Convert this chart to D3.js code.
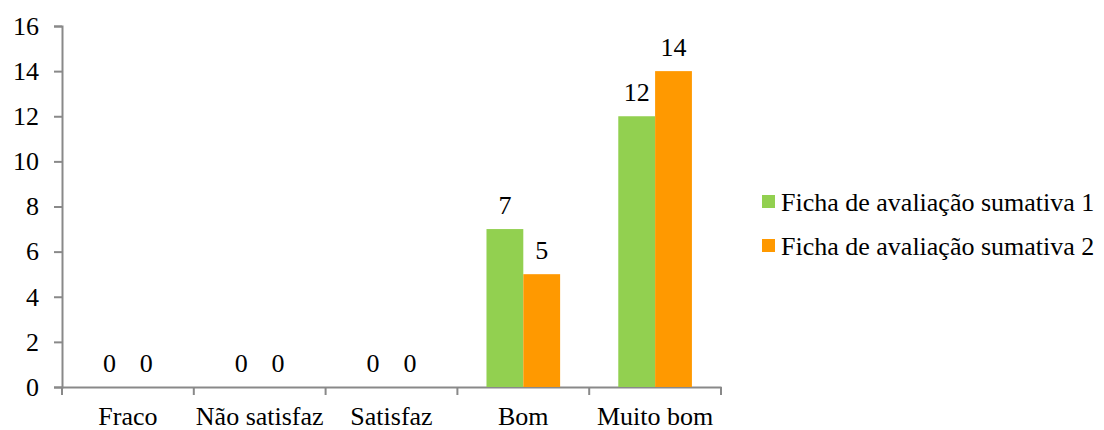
<!DOCTYPE html>
<html>
<head>
<meta charset="utf-8">
<script src="https://cdn.jsdelivr.net/npm/d3@7"></script>
<style>
  body { margin: 0; background: #fff; }
</style>
</head>
<body>
<div id="chart"></div>
<script>
// data
var categories = ["Fraco", "Não satisfaz", "Satisfaz", "Bom", "Muito bom"];
var seriesNames = ["Ficha de avaliação sumativa 1", "Ficha de avaliação sumativa 2"];
var ficha1 = [0, 0, 0, 7, 12];
var ficha2 = [0, 0, 0, 5, 14];
var yTicks = [0, 2, 4, 6, 8, 10, 12, 14, 16];
var colors = ["#92d050", "#ff9900"];

var FONT = "'Liberation Serif', Tinos, 'DejaVu Serif', serif";
var FS = "26px";

var W = 1104, H = 430;
var margin = {top: 26, right: 383, bottom: 43, left: 62},
    width = W - margin.left - margin.right,
    height = H - margin.top - margin.bottom;

var svg = d3.select("#chart").append("svg")
    .attr("width", W)
    .attr("height", H)
    .style("font-family", FONT)
  .append("g")
    .attr("transform", "translate(" + margin.left + "," + margin.top + ")");

var x = d3.scaleBand()
    .domain(categories)
    .range([0, width]);

var x1 = d3.scaleBand()
    .domain([0, 1])
    .range([0, x.bandwidth()])
    .paddingOuter(0.79);

var y = d3.scaleLinear()
    .domain([0, 16])
    .range([height, 0]);

var axisColor = "#898989";

// y axis
var yAxis = svg.append("g")
    .call(d3.axisLeft(y).tickValues(yTicks).tickSize(8).tickPadding(15));
yAxis.attr("font-family", FONT);
yAxis.selectAll("text").style("font-size", FS).style("fill", "#000");

// x axis
var xAxis = svg.append("g")
    .attr("transform", "translate(0," + height + ")")
    .call(d3.axisBottom(x).tickSize(0).tickPadding(20));
xAxis.attr("font-family", FONT);
xAxis.selectAll("text").style("font-size", FS).style("fill", "#000");

// category boundary ticks
svg.append("g").selectAll("line")
    .data(d3.range(categories.length + 1))
  .enter().append("line")
    .attr("x1", function(i) { return i * x.step(); })
    .attr("x2", function(i) { return i * x.step(); })
    .attr("y1", height)
    .attr("y2", height + 8)
    .style("stroke", axisColor)
    .style("stroke-width", 2);

svg.selectAll(".domain").style("stroke", axisColor).style("stroke-width", 2);
svg.selectAll(".tick line").style("stroke", axisColor).style("stroke-width", 2);

// bars
var rows = categories.map(function(c, i) {
  return {cat: c, vals: [ficha1[i], ficha2[i]]};
});

var groups = svg.selectAll(".grp")
    .data(rows)
  .enter().append("g")
    .attr("class", "grp")
    .attr("transform", function(d) { return "translate(" + x(d.cat) + ",0)"; });

groups.selectAll("rect")
    .data(function(d) { return d.vals.map(function(v, k) { return {k: k, v: v}; }); })
  .enter().append("rect")
    .attr("x", function(d) { return x1(d.k); })
    .attr("y", function(d) { return y(d.v); })
    .attr("width", x1.bandwidth())
    .attr("height", function(d) { return height - y(d.v); })
    .style("fill", function(d) { return colors[d.k]; });

groups.selectAll(".lbl")
    .data(function(d) { return d.vals.map(function(v, k) { return {k: k, v: v}; }); })
  .enter().append("text")
    .attr("class", "lbl")
    .attr("x", function(d) { return x1(d.k) + x1.bandwidth() / 2; })
    .attr("y", function(d) { return y(d.v) - 15; })
    .attr("text-anchor", "middle")
    .attr("font-family", FONT)
    .style("font-size", FS)
    .text(function(d) { return d.v; });

// legend
var legend = svg.append("g")
    .attr("transform", "translate(" + (width + 41) + ",0)");

seriesNames.forEach(function(name, i) {
  var ly = 176 + i * 44;
  legend.append("rect")
      .attr("x", 0)
      .attr("y", ly - 7)
      .attr("width", 13)
      .attr("height", 13)
      .style("fill", colors[i]);
  legend.append("text")
      .attr("x", 19)
      .attr("y", ly + 9)
      .attr("font-family", FONT)
      .style("font-size", FS)
      .text(name);
});
</script>
</body>
</html>
